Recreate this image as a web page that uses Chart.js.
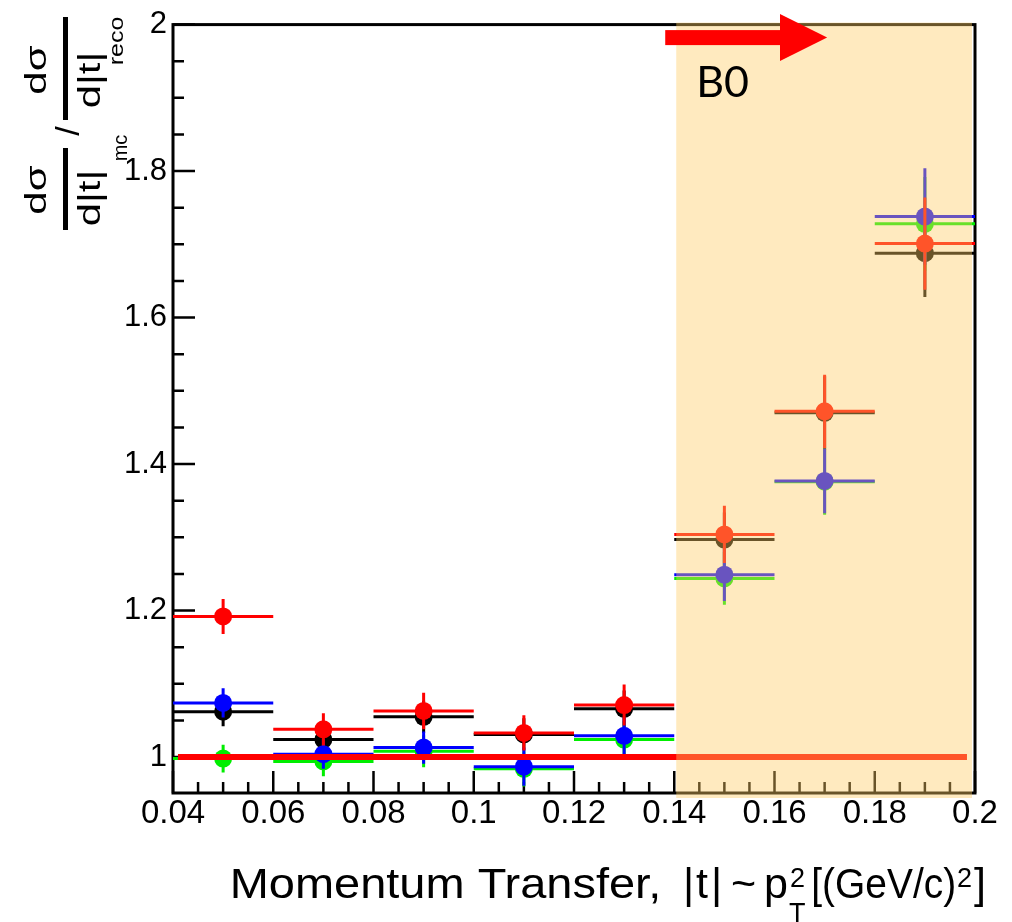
<!DOCTYPE html>
<html>
<head>
<meta charset="utf-8">
<script src="https://cdn.jsdelivr.net/npm/chart.js@4/dist/chart.umd.min.js"></script>
<style>
  html, body { margin: 0; padding: 0; background: #fff; }
  #wrap { width: 1012px; height: 922px; }
</style>
</head>
<body>
<div id="wrap"><canvas id="chart" width="1012" height="922"></canvas></div>
<script>
// bin centres (|t|) and half width of each bin
const xBins = [0.05, 0.07, 0.09, 0.11, 0.13, 0.15, 0.17, 0.19];
const binHalfWidth = 0.01;

// ratio values per series, with their vertical errors
const blackY   = [1.062, 1.024, 1.055, 1.031, 1.066, 1.297, 1.470, 1.688];
const blackErr = [0.020, 0.020, 0.022, 0.022, 0.025, 0.037, 0.050, 0.060];
const greenY   = [0.998, 0.994, 1.008, 0.984, 1.024, 1.244, 1.376, 1.728];
const greenErr = [0.019, 0.020, 0.022, 0.024, 0.025, 0.036, 0.045, 0.064];
const blueY    = [1.074, 1.004, 1.013, 0.987, 1.029, 1.249, 1.377, 1.738];
const blueErr  = [0.020, 0.020, 0.022, 0.026, 0.025, 0.036, 0.044, 0.066];
const redY     = [1.192, 1.038, 1.063, 1.033, 1.071, 1.304, 1.472, 1.701];
const redErr   = [0.024, 0.022, 0.025, 0.024, 0.028, 0.039, 0.050, 0.063];

// reference line at ratio = 1
const refLineX = [0.041, 0.1984];
const refLineY = [1, 1];

// axis ticks
const xMajorTicks = [0.04, 0.06, 0.08, 0.1, 0.12, 0.14, 0.16, 0.18, 0.2];
const yMajorTicks = [1, 1.2, 1.4, 1.6, 1.8, 2];
const xMinorStep = 0.005;
const yMinorStep = 0.05;

// B0 region
const regionStart = 0.14;
const regionLabel = 'B0';

const FONT = '"Liberation Sans", Arial, sans-serif';

// 把数值和误差组装成点
const makePoints = (ys, errs) => xBins.map((x, i) => ({ x, y: ys[i], err: errs[i] }));

const makeSeries = (label, ys, errs, color, order) => ({
    type: 'scatter',
    label,
    data: makePoints(ys, errs),
    backgroundColor: color,
    borderWidth: 0,
    pointRadius: 9,
    pointHoverRadius: 9,
    errColor: color,
    order
});

// 框线和向内的刻度
const frameTicks = {
    id: 'frameTicks',
    beforeDatasetsDraw(chart) {
        const { ctx, chartArea: a, scales: { x, y } } = chart;
        ctx.save();
        ctx.strokeStyle = '#000';
        ctx.lineWidth = 3;
        ctx.strokeRect(a.left, a.top, a.right - a.left, a.bottom - a.top);
        ctx.lineWidth = 2.5;
        ctx.beginPath();
        for (let v = x.min; v <= x.max + 1e-9; v += xMinorStep) {
            const major = xMajorTicks.some(t => Math.abs(t - v) < 1e-6);
            const px = x.getPixelForValue(v);
            ctx.moveTo(px, a.bottom);
            ctx.lineTo(px, a.bottom - (major ? 22 : 11));
        }
        for (let v = 1; v <= y.max + 1e-9; v += yMinorStep) {
            const major = yMajorTicks.some(t => Math.abs(t - v) < 1e-6);
            const py = y.getPixelForValue(v);
            ctx.moveTo(a.left, py);
            ctx.lineTo(a.left + (major ? 22 : 11), py);
        }
        ctx.stroke();
        ctx.restore();
    }
};

// 误差棒，画在每个数据集的点之前
const errorBars = {
    id: 'errorBars',
    beforeDatasetDraw(chart, args) {
        const ds = chart.data.datasets[args.index];
        if (!ds.errColor) return;
        const { ctx, scales: { x, y } } = chart;
        ctx.save();
        ctx.strokeStyle = ds.errColor;
        ctx.lineWidth = 3;
        ctx.beginPath();
        ds.data.forEach(p => {
            const py = y.getPixelForValue(p.y);
            const px = x.getPixelForValue(p.x);
            ctx.moveTo(x.getPixelForValue(p.x - binHalfWidth), py);
            ctx.lineTo(x.getPixelForValue(p.x + binHalfWidth), py);
            ctx.moveTo(px, y.getPixelForValue(p.y + p.err));
            ctx.lineTo(px, y.getPixelForValue(p.y - p.err));
        });
        ctx.stroke();
        ctx.restore();
    }
};

// 半透明的 B0 区域
const regionShade = {
    id: 'regionShade',
    afterDatasetsDraw(chart) {
        const { ctx, chartArea: a, scales: { x } } = chart;
        const left = x.getPixelForValue(regionStart) + 2;
        ctx.save();
        ctx.fillStyle = 'rgba(255, 205, 100, 0.41)';
        ctx.fillRect(left, a.top - 2, a.right - 3 - left, a.bottom - a.top + 7);
        ctx.restore();
    }
};

const rotText = (ctx, txt, bx, cy, size, stretch) => {
    ctx.save();
    ctx.translate(bx, cy);
    ctx.rotate(-Math.PI / 2);
    ctx.scale(stretch, 1);
    ctx.font = `${size}px ${FONT}`;
    ctx.textAlign = 'center';
    ctx.textBaseline = 'alphabetic';
    ctx.fillText(txt, 0, 0);
    ctx.restore();
};

// 按字形墨迹放文字；给了 right 就拉伸到该宽度
const inkText = (ctx, txt, left, right, base, size) => {
    ctx.save();
    ctx.font = `${size}px ${FONT}`;
    ctx.textAlign = 'left';
    ctx.textBaseline = 'alphabetic';
    const m = ctx.measureText(txt);
    const inkW = m.actualBoundingBoxRight + m.actualBoundingBoxLeft;
    const s = right == null ? 1 : (right - left) / inkW;
    ctx.translate(left, base);
    ctx.scale(s, 1);
    ctx.fillText(txt, m.actualBoundingBoxLeft, 0);
    ctx.restore();
};

// 箭头、B0 文字和两个轴标题
const annotations = {
    id: 'annotations',
    afterDraw(chart) {
        const { ctx, chartArea: a, scales: { x } } = chart;
        ctx.save();

        // arrow
        const x0 = x.getPixelForValue(0.1382);
        const xb = x.getPixelForValue(0.1611);
        const xt = x.getPixelForValue(0.1705);
        const cy = a.top + 13;
        ctx.fillStyle = '#ff0000';
        ctx.fillRect(x0, cy - 7.5, xb - x0 + 1, 15);
        ctx.beginPath();
        ctx.moveTo(xb, cy - 23.5);
        ctx.lineTo(xt, cy);
        ctx.lineTo(xb, cy + 23.5);
        ctx.closePath();
        ctx.fill();

        // B0
        ctx.fillStyle = '#000';
        ctx.font = '43px Lato, "Open Sans", sans-serif';
        ctx.textAlign = 'left';
        ctx.textBaseline = 'alphabetic';
        ctx.fillText(regionLabel, x.getPixelForValue(regionStart) + 22, 97);

        // x title: Momentum Transfer, |t| ~ p_T^2 [(GeV/c)^2]
        const base = 898;
        inkText(ctx, 'Momentum Transfer,', 233, 658, base, 43);
        inkText(ctx, '|', 686, null, base, 43);
        inkText(ctx, 't', 696, null, base, 43);
        inkText(ctx, '|', 714, null, base, 43);
        inkText(ctx, '~', 732, null, base, 43);
        inkText(ctx, 'p', 766, null, base, 43);
        inkText(ctx, '2', 791, null, base - 11, 27);
        inkText(ctx, 'T', 789, null, base + 24, 27);
        inkText(ctx, '[(GeV/c)', 814, 954, base, 43);
        inkText(ctx, '2', 958, null, base - 11, 27);
        inkText(ctx, ']', 974, null, base, 43);

        // y title: (dσ/d|t|)_mc / (dσ/d|t|)_reco
        ctx.fillRect(63, 148, 5, 82);
        ctx.fillRect(63, 17, 5, 103);
        rotText(ctx, 'dσ', 46, 190, 30, 1.4);
        rotText(ctx, 'd|t|', 100, 198, 31, 1.35);
        rotText(ctx, 'mc', 127, 148, 20, 1.0);
        rotText(ctx, '/', 79, 131, 34, 1.0);
        rotText(ctx, 'dσ', 46, 70, 30, 1.4);
        rotText(ctx, 'd|t|', 100, 80, 31, 1.35);
        rotText(ctx, 'reco', 123, 41, 20, 1.25);

        ctx.restore();
    }
};

const init = () => {
    new Chart(document.getElementById('chart'), {
        data: {
            datasets: [
                {
                    type: 'line',
                    label: 'ref',
                    data: refLineX.map((x, i) => ({ x, y: refLineY[i] })),
                    borderColor: '#ff0000',
                    borderWidth: 6,
                    pointRadius: 0,
                    order: 0
                },
                makeSeries('red', redY, redErr, '#ff0000', 1),
                makeSeries('blue', blueY, blueErr, '#0000ff', 2),
                makeSeries('green', greenY, greenErr, '#00ee00', 3),
                makeSeries('black', blackY, blackErr, '#000000', 4)
            ]
        },
        options: {
            responsive: false,
            devicePixelRatio: 1,
            animation: false,
            layout: { padding: { top: 17, right: 37, left: 0, bottom: 0 } },
            plugins: { legend: { display: false }, tooltip: { enabled: false } },
            scales: {
                x: {
                    type: 'linear',
                    min: 0.04,
                    max: 0.2,
                    grid: { display: false, drawTicks: false },
                    border: { display: false },
                    afterBuildTicks: s => { s.ticks = xMajorTicks.map(v => ({ value: v })); },
                    afterFit: s => { s.height = 129; },
                    ticks: {
                        padding: 1,
                        maxRotation: 0,
                        autoSkip: false,
                        color: '#000',
                        font: { family: FONT, size: 33 },
                        callback: v => String(+v.toFixed(3))
                    }
                },
                y: {
                    type: 'linear',
                    min: 0.951,
                    max: 2,
                    grid: { display: false, drawTicks: false },
                    border: { display: false },
                    afterBuildTicks: s => { s.ticks = yMajorTicks.map(v => ({ value: v })); },
                    afterFit: s => { s.width = 173; },
                    ticks: {
                        padding: 6,
                        color: '#000',
                        font: { family: FONT, size: 31 },
                        callback: v => String(+v.toFixed(2))
                    }
                }
            }
        },
        plugins: [frameTicks, errorBars, regionShade, annotations]
    });
};

if (document.readyState !== 'loading') {
    init();
} else {
    document.addEventListener('DOMContentLoaded', init);
}
</script>
</body>
</html>
